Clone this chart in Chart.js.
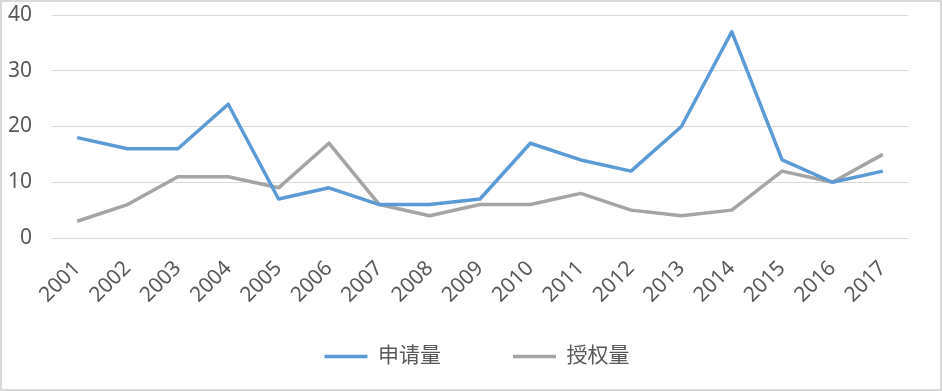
<!DOCTYPE html>
<html>
<head>
<meta charset="utf-8">
<script src="https://cdn.jsdelivr.net/npm/chart.js@4/dist/chart.umd.min.js"></script>
<style>
  html, body { margin: 0; padding: 0; background: #fff; }
  #wrap { box-sizing: border-box; width: 942px; height: 391px; border: 2px solid #d9d9d9; }
</style>
</head>
<body>
<div id="wrap"><canvas id="c" width="938" height="387"></canvas></div>
<script>
let years = ["2001","2002","2003","2004","2005","2006","2007","2008","2009","2010","2011","2012","2013","2014","2015","2016","2017"];
let shenqing = [18, 16, 16, 24, 7, 9, 6, 6, 7, 17, 14, 12, 20, 37, 14, 10, 12];
let shouquan = [3, 6, 11, 11, 9, 17, 6, 4, 6, 6, 8, 5, 4, 5, 12, 10, 15];
let yTicks = [0, 10, 20, 30, 40];

let fontFam = '"Noto Sans", "Noto Sans CJK SC", sans-serif';

// legend centred under the plot area and pulled up a bit
let moveLegend = {
  id: "moveLegend",
  afterLayout(chart) {
    let lg = chart.legend;
    lg.left += 22;
    lg.right += 22;
    lg.top = chart.chartArea.bottom + 36;
    lg.bottom = chart.height;
    lg.height = lg.bottom - lg.top;
  }
};

new Chart(document.getElementById("c").getContext("2d"), {
  type: "line",
  data: {
    labels: years,
    datasets: [
      { label: "申请量", data: shenqing, borderColor: "#5b9bd5", backgroundColor: "#5b9bd5", borderWidth: 3.5, borderJoinStyle: "round", pointRadius: 0, tension: 0 },
      { label: "授权量", data: shouquan, borderColor: "#a5a5a5", backgroundColor: "#a5a5a5", borderWidth: 3.5, borderJoinStyle: "round", pointRadius: 0, tension: 0 }
    ]
  },
  plugins: [moveLegend],
  options: {
    responsive: false,
    animation: false,
    layout: { padding: { left: 0, right: 32, top: 0, bottom: 11 } },
    plugins: {
      tooltip: { enabled: false },
      legend: {
        position: "bottom",
        maxHeight: 60,
        labels: {
          usePointStyle: true,
          pointStyle: "line",
          pointStyleWidth: 43,
          color: "#595959",
          padding: 72,
          font: { family: fontFam, size: 21 }
        }
      }
    },
    scales: {
      x: {
        offset: true,
        afterFit: function (s) { s.height = 80; },
        grid: { display: false, drawTicks: false },
        border: { display: false },
        ticks: {
          color: "#595959",
          maxRotation: 45,
          minRotation: 45,
          padding: 18,
          autoSkip: false,
          font: { family: fontFam, size: 21 }
        }
      },
      y: {
        min: 0,
        max: 40,
        afterFit: function (s) { s.width = 50; s.paddingTop = 13; s.paddingBottom = 13; },
        afterBuildTicks: function (s) { s.ticks = yTicks.map(v => ({ value: v })); },
        grid: { color: "#d9d9d9", lineWidth: 1, drawTicks: false },
        border: { display: false },
        ticks: {
          color: "#595959",
          padding: 20,
          font: { family: fontFam, size: 21 }
        }
      }
    }
  }
});
</script>
</body>
</html>
